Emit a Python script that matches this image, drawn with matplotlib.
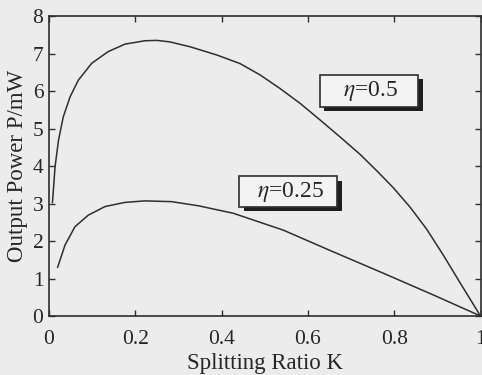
import numpy as np
import matplotlib
matplotlib.use('Agg')
import matplotlib.pyplot as plt
from matplotlib.patches import Rectangle

# values
k_half = [0.008, 0.014, 0.022, 0.033, 0.049, 0.068, 0.099, 0.137, 0.176, 0.222,
          0.250, 0.280, 0.327, 0.389, 0.443, 0.489, 0.535, 0.582, 0.628, 0.674,
          0.721, 0.759, 0.798, 0.837, 0.875, 0.914, 0.953, 1.0]
p_half = [3.03, 3.98, 4.69, 5.31, 5.85, 6.29, 6.74, 7.05, 7.25, 7.34,
          7.35, 7.31, 7.18, 6.96, 6.73, 6.43, 6.07, 5.67, 5.23, 4.78,
          4.31, 3.88, 3.42, 2.90, 2.32, 1.62, 0.88, 0.0]

k_quarter = [0.020, 0.037, 0.060, 0.091, 0.130, 0.176, 0.222, 0.284, 0.346, 0.427,
             0.543, 0.659, 0.775, 0.891, 1.0]
p_quarter = [1.30, 1.89, 2.38, 2.69, 2.92, 3.03, 3.07, 3.05, 2.94, 2.74,
             2.29, 1.71, 1.14, 0.56, 0.0]

labels = [r'$\eta$=0.5', r'$\eta$=0.25']
# label boxes: (x0, x1, y0, y1) in data units
label_boxes = [(0.628, 0.856, 5.58, 6.43), (0.441, 0.668, 2.91, 3.73)]

xticks = [0, 0.2, 0.4, 0.6, 0.8, 1]
xticklabels = ['0', '0.2', '0.4', '0.6', '0.8', '1']
yticks = list(range(9))

plt.rcParams['font.family'] = ['Liberation Serif', 'DejaVu Serif']
plt.rcParams['mathtext.fontset'] = 'stix'

bg = '#ececec'
ink = '#2e2e2e'

fig = plt.figure(figsize=(4.82, 3.75), dpi=100, facecolor=bg)
ax = fig.add_axes([0.1017, 0.1573, 0.8952, 0.8])
ax.set_facecolor(bg)

ax.plot(k_half, p_half, color=ink, lw=1.1)
ax.plot(k_quarter, p_quarter, color=ink, lw=1.1)

ax.set_xlim(0, 1)
ax.set_ylim(0, 8)
ax.set_xticks(xticks)
ax.set_xticklabels(xticklabels)
ax.set_yticks(yticks)
ax.tick_params(direction='in', top=True, right=True, length=4, width=1,
               labelsize=15.5, colors=ink, labelcolor='#262626')
ax.tick_params(axis='x', pad=10)
ax.tick_params(axis='y', pad=4)
for s in ax.spines.values():
    s.set_color(ink)
    s.set_linewidth(1.2)

ax.set_xlabel('Splitting Ratio K', fontsize=16.5, color='#262626', labelpad=3)
ax.set_ylabel('Output Power P/mW', fontsize=16.5, color='#262626', labelpad=3)

dx, dy = 0.0104, -0.12
for text, (x0, x1, y0, y1) in zip(labels, label_boxes):
    ax.add_patch(Rectangle((x0 + dx, y0 + dy), x1 - x0, y1 - y0,
                           fc='#1e1e1e', ec='none', zorder=3))
    ax.add_patch(Rectangle((x0, y0), x1 - x0, y1 - y0,
                           fc='#f3f3f3', ec=ink, lw=1.2, zorder=4))
    ax.text((x0 + x1) / 2 + 0.004, (y0 + y1) / 2, text, ha='center', va='center',
            fontsize=17, color='#262626', zorder=5)

fig.savefig('out.png', dpi=100, facecolor=bg)
